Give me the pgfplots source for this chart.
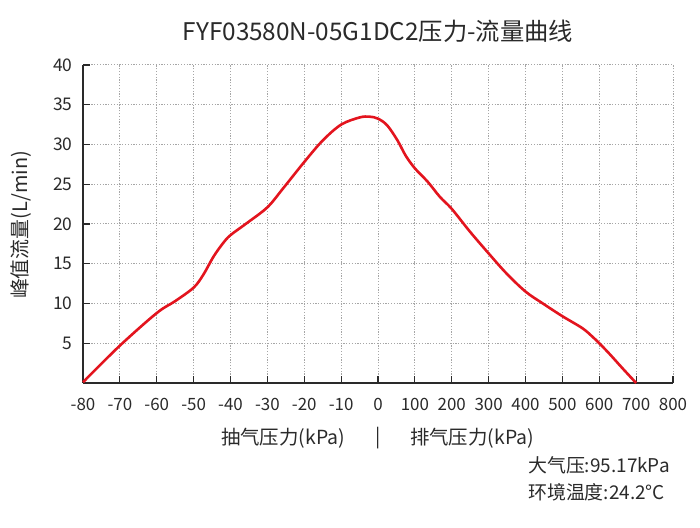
\documentclass[border=0pt]{standalone}
\usepackage{pgfplots}
\pgfplotsset{compat=1.18}
\usepackage{fontspec}
\setmainfont{Noto Sans CJK SC}
\definecolor{curve}{HTML}{E3141E}
\definecolor{txt}{HTML}{2A2A2A}
\begin{document}
\begin{tikzpicture}[x=1bp,y=1bp]
\useasboundingbox (0,0) rectangle (700,528);
\begin{axis}[
  at={(83bp,145bp)}, anchor=south west,
  scale only axis, width=590bp, height=318bp,
  x coord trafo/.code={\pgfmathparse{ifthenelse(#1<=0,(#1+80)/10,8+#1/100)}},
  x coord inv trafo/.code={\pgfmathparse{ifthenelse(#1<=8,#1*10-80,(#1-8)*100)}},
  xmin=-80, xmax=800, ymin=0, ymax=40,
  xtick={-80,-70,-60,-50,-40,-30,-20,-10,0,100,200,300,400,500,600,700,800},
  xticklabels={-80,-70,-60,-50,-40,-30,-20,-10,0,100,200,300,400,500,600,700,800},
  ytick={5,10,15,20,25,30,35,40},
  axis x line=bottom, axis y line=left,
  axis line style={-, line width=1.4bp, color=txt},
  tick style={line width=1.2bp, color=txt},
  tick align=inside, major tick length=7bp,
  grid=major,
  major grid style={color=gray!70, line width=1bp, dash pattern=on 1.1bp off 1.7bp},
  /pgf/number format/assume math mode=true,
  xticklabel style={font=\fontsize{17}{19}\selectfont, text=txt, yshift=-11.5bp},
  yticklabel style={font=\fontsize{17.5}{19}\selectfont, text=txt, xshift=-7bp},
  clip=false,
]
\addplot[curve, line width=2.6bp, smooth, tension=0.55] coordinates {
(-80,0.1) (-70,4.7) (-60,8.8) (-55,10.3) (-50,12.0) (-47.4,13.6) (-44.6,15.9)
(-42,17.6) (-40,18.6) (-35.6,20.1) (-30,22.1) (-25.7,24.5) (-20,27.8) (-15,30.5)
(-10,32.5) (-5,33.4) (-2.3,33.5) (0,33.25) (25,32.4) (53,30.5) (75,28.6)
(100,27.0) (135,25.3) (168,23.4) (200,21.9) (250,19.0) (300,16.3) (348,13.8)
(400,11.5) (447,10.0) (500,8.4) (554,6.9) (582,5.8) (600,5.0) (627,3.7)
(663,1.85) (700,0)
};
\end{axis}
\node[text=txt, font=\fontsize{24.4}{28}\selectfont] at (378,497) {FYF03580N-05G1DC2压力-流量曲线};
\node[text=txt, font=\fontsize{20}{22}\selectfont, rotate=90] at (21,303) {峰值流量(L/min)};
\node[text=txt, font=\fontsize{19.5}{22}\selectfont] at (283,90) {抽气压力(kPa)};
\node[text=txt, font=\fontsize{19.5}{22}\selectfont] at (378,90) {|};
\node[text=txt, font=\fontsize{19.5}{22}\selectfont] at (472,90) {排气压力(kPa)};
\node[text=txt, font=\fontsize{19}{21}\selectfont, anchor=west, inner sep=0pt] at (528,63) {大气压:95.17kPa};
\node[text=txt, font=\fontsize{19}{21}\selectfont, anchor=west, inner sep=0pt] at (528,36) {环境温度:24.2°C};
\end{tikzpicture}
\end{document}
